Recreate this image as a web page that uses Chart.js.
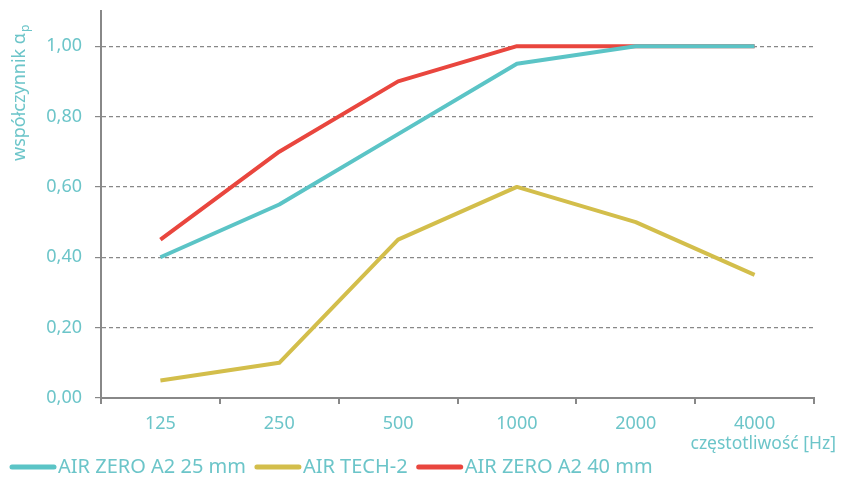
<!DOCTYPE html>
<html><head><meta charset="utf-8">
<script src="https://cdn.jsdelivr.net/npm/chart.js@4"></script>
<style>html,body{margin:0;padding:0;background:#fff}#wrap{width:850px;height:479px}</style>
</head><body><div id="wrap"><canvas id="c" width="850" height="479"></canvas></div>
<script>
const categories = ["125", "250", "500", "1000", "2000", "4000"];
const zero25 = [0.40, 0.55, 0.75, 0.95, 1.00, 1.00];
const tech2 = [0.05, 0.10, 0.45, 0.60, 0.50, 0.35];
const zero40 = [0.45, 0.70, 0.90, 1.00, 1.00, 1.00];
const seriesNames = ["AIR ZERO A2 25 mm", "AIR TECH-2", "AIR ZERO A2 40 mm"];
const yTitle = "współczynnik α";
const yTitleSub = "p";
const xTitle = "częstotliwość [Hz]";

const TXT = '#6cc5c9';
const GRAY = '#888888';
const FONT = "'Noto Sans', sans-serif";
const colors = ['#5bc4c6', '#d3be4b', '#e9463e'];

const extras = {
  id: 'extras',
  afterDraw(chart) {
    const ctx = chart.ctx;
    ctx.save();
    // y title
    ctx.fillStyle = TXT;
    ctx.translate(25, 161);
    ctx.rotate(-Math.PI / 2);
    ctx.font = '18px ' + FONT;
    ctx.textAlign = 'left';
    ctx.textBaseline = 'alphabetic';
    ctx.fillText(yTitle, 0, 0);
    const w = ctx.measureText(yTitle).width;
    ctx.font = '12px ' + FONT;
    ctx.fillText(yTitleSub, w + 1, 4);
    ctx.restore();
    // x title
    ctx.save();
    ctx.fillStyle = TXT;
    ctx.font = '17.5px ' + FONT;
    ctx.textAlign = 'right';
    ctx.textBaseline = 'middle';
    ctx.fillText(xTitle, 836, 444);
    ctx.restore();
    // legend
    ctx.save();
    ctx.font = '20px ' + FONT;
    ctx.textBaseline = 'middle';
    let x = 10;
    const y = 467;
    chart.data.datasets.forEach((ds, i) => {
      ctx.strokeStyle = ds.borderColor;
      ctx.lineWidth = 5;
      ctx.lineCap = 'round';
      ctx.beginPath();
      ctx.moveTo(x + 2, y);
      ctx.lineTo(x + 44, y);
      ctx.stroke();
      x += 48;
      ctx.fillStyle = TXT;
      ctx.fillText(ds.label, x, y);
      x += ctx.measureText(ds.label).width + 9;
    });
    ctx.restore();
  }
};

new Chart(document.getElementById('c'), {
  type: 'line',
  data: {
    labels: categories,
    datasets: [
      { label: seriesNames[0], data: zero25, borderColor: colors[0] },
      { label: seriesNames[1], data: tech2, borderColor: colors[1] },
      { label: seriesNames[2], data: zero40, borderColor: colors[2] }
    ].map(d => Object.assign(d, { borderWidth: 4, pointRadius: 0, tension: 0, fill: false, borderCapStyle: 'butt', borderJoinStyle: 'round' }))
  },
  options: {
    responsive: false,
    animation: false,
    devicePixelRatio: 1,
    layout: { padding: { top: 11, right: 36, left: 0, bottom: 0 } },
    plugins: { legend: { display: false }, tooltip: { enabled: false } },
    scales: {
      x: {
        offset: true,
        grid: { offset: true, drawOnChartArea: false, drawTicks: true, tickLength: 6, color: GRAY, lineWidth: 2 },
        border: { color: GRAY, width: 2 },
        ticks: { color: TXT, font: { family: FONT, size: 18 }, padding: 9, maxRotation: 0 },
        afterFit(s) { s.height = 81; s.paddingLeft = 0; s.paddingRight = 0; }
      },
      y: {
        min: 0, max: 1.1,
        afterBuildTicks(s) { s.ticks = s.ticks.filter(t => t.value <= 1.0001); },
        grid: { color: GRAY, lineWidth: 1.2, tickLength: 6 },
        border: { color: GRAY, width: 2, dash: [4, 3] },
        ticks: { stepSize: 0.2, color: TXT, font: { family: FONT, size: 18 }, padding: 13,
          callback: v => v.toFixed(2).replace('.', ',') },
        afterFit(s) { s.width = 101; s.paddingTop = 0; s.paddingBottom = 0; }
      }
    }
  },
  plugins: [extras]
});
</script></body></html>
